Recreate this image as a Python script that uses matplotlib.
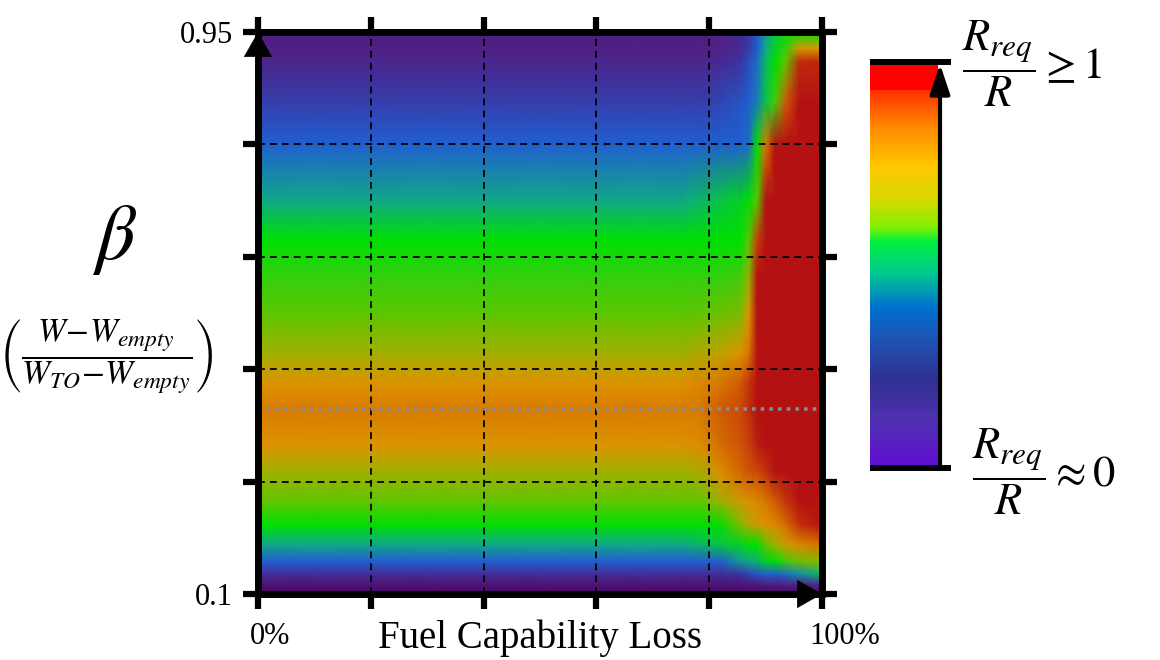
import matplotlib
matplotlib.use('Agg')
import matplotlib.pyplot as plt
import numpy as np
from matplotlib.colors import LinearSegmentedColormap, Normalize
from matplotlib.cm import ScalarMappable

plt.rcParams['font.family'] = ['Liberation Serif', 'DejaVu Serif']
plt.rcParams['mathtext.fontset'] = 'stix'

# fuel capability loss (%) and beta sample positions
loss_pct = [0, 20, 40, 60, 75, 78.5, 82, 85.5, 87, 88.5, 90, 91.7, 93.5, 96, 100]
beta = [0.10, 0.114, 0.13, 0.15, 0.175, 0.205, 0.24, 0.285, 0.325, 0.38, 0.42,
        0.465, 0.52, 0.58, 0.635, 0.695, 0.78, 0.845, 0.905, 0.925, 0.95]

# R_req / R, one row per beta value
ratio = [
    [0.00, 0.00, 0.00, 0.00, 0.00, 0.00, 0.00, 0.00, 0.00, 0.00, 0.00, 0.00, 0.00, 0.00, 0.00],
    [0.05, 0.05, 0.05, 0.05, 0.05, 0.05, 0.05, 0.05, 0.06, 0.06, 0.07, 0.08, 0.09, 0.10, 0.12],
    [0.15, 0.15, 0.15, 0.15, 0.15, 0.15, 0.15, 0.18, 0.22, 0.25, 0.28, 0.28, 0.30, 0.34, 0.40],
    [0.28, 0.28, 0.28, 0.28, 0.28, 0.28, 0.28, 0.36, 0.38, 0.40, 0.44, 0.46, 0.52, 0.58, 0.62],
    [0.38, 0.38, 0.38, 0.38, 0.38, 0.40, 0.42, 0.44, 0.46, 0.46, 0.56, 0.64, 0.70, 0.75, 0.82],
    [0.46, 0.46, 0.46, 0.46, 0.46, 0.46, 0.46, 0.60, 0.66, 0.70, 0.73, 0.75, 0.82, 0.93, 1.00],
    [0.56, 0.56, 0.56, 0.56, 0.56, 0.56, 0.64, 0.70, 0.73, 0.75, 0.80, 0.85, 0.92, 1.00, 1.00],
    [0.64, 0.64, 0.64, 0.64, 0.64, 0.66, 0.74, 0.83, 0.86, 0.88, 0.93, 1.00, 1.00, 1.00, 1.00],
    [0.72, 0.72, 0.72, 0.72, 0.72, 0.74, 0.82, 0.86, 0.90, 0.97, 1.00, 1.00, 1.00, 1.00, 1.00],
    [0.79, 0.79, 0.79, 0.79, 0.79, 0.80, 0.85, 0.88, 0.93, 1.00, 1.00, 1.00, 1.00, 1.00, 1.00],
    [0.72, 0.72, 0.72, 0.72, 0.72, 0.75, 0.80, 0.85, 0.92, 1.00, 1.00, 1.00, 1.00, 1.00, 1.00],
    [0.64, 0.64, 0.64, 0.64, 0.64, 0.66, 0.68, 0.72, 0.80, 1.00, 1.00, 1.00, 1.00, 1.00, 1.00],
    [0.56, 0.56, 0.56, 0.56, 0.56, 0.57, 0.58, 0.60, 0.72, 1.00, 1.00, 1.00, 1.00, 1.00, 1.00],
    [0.50, 0.50, 0.50, 0.50, 0.50, 0.50, 0.50, 0.52, 0.62, 1.00, 1.00, 1.00, 1.00, 1.00, 1.00],
    [0.46, 0.46, 0.46, 0.46, 0.46, 0.46, 0.46, 0.46, 0.55, 0.90, 1.00, 1.00, 1.00, 1.00, 1.00],
    [0.38, 0.38, 0.38, 0.38, 0.38, 0.40, 0.42, 0.44, 0.46, 0.55, 1.00, 1.00, 1.00, 1.00, 1.00],
    [0.28, 0.28, 0.28, 0.28, 0.28, 0.28, 0.28, 0.28, 0.30, 0.46, 0.80, 1.00, 1.00, 1.00, 1.00],
    [0.20, 0.20, 0.20, 0.20, 0.20, 0.20, 0.22, 0.25, 0.28, 0.32, 0.42, 0.52, 0.85, 1.00, 1.00],
    [0.12, 0.12, 0.12, 0.12, 0.12, 0.12, 0.14, 0.18, 0.24, 0.30, 0.40, 0.46, 0.56, 0.95, 0.95],
    [0.09, 0.09, 0.09, 0.09, 0.09, 0.09, 0.10, 0.14, 0.20, 0.28, 0.38, 0.44, 0.50, 0.72, 0.70],
    [0.08, 0.08, 0.08, 0.08, 0.08, 0.08, 0.10, 0.14, 0.18, 0.26, 0.36, 0.42, 0.46, 0.46, 0.46],
]

x_ticks = [0, 20, 40, 60, 80, 100]
y_ticks = [0.1, 0.27, 0.44, 0.61, 0.78, 0.95]
beta_ref = 0.38

heat_cmap = LinearSegmentedColormap.from_list('heat', [
    (0.00, '#4a0662'), (0.06, '#4e1878'), (0.10, '#502288'), (0.18, '#3a34a0'),
    (0.28, '#2060d0'), (0.38, '#10a888'), (0.46, '#00e000'), (0.50, '#30d010'),
    (0.56, '#60c400'), (0.64, '#a0b000'), (0.72, '#dc9400'), (0.80, '#d87800'),
    (0.88, '#cc4a08'), (1.00, '#b41212')])

bar_cmap = LinearSegmentedColormap.from_list('bar', [
    (0.00, '#6010d0'), (0.12, '#5030b0'), (0.227, '#303090'), (0.325, '#2050b0'),
    (0.42, '#0070d0'), (0.51, '#00c890'), (0.595, '#00f040'), (0.635, '#80f000'),
    (0.71, '#d8d800'), (0.795, '#ffc800'), (0.90, '#ff8c00'), (1.00, '#ff3000')])
bar_cmap.set_over('#ff0000')

fig = plt.figure(figsize=(11.6, 6.6), dpi=100)
ax = fig.add_axes([258 / 1160, 66 / 660, 564 / 1160, 562 / 660])

ax.pcolormesh(loss_pct, beta, np.array(ratio), shading='gouraud',
              cmap=heat_cmap, vmin=0, vmax=1)
ax.set_xlim(0, 100)
ax.set_ylim(0.1, 0.95)

for v in x_ticks[1:-1]:
    ax.axvline(v, color='k', ls=(0, (3.8, 2.8)), lw=1.3)
for v in y_ticks[1:-1]:
    ax.axhline(v, color='k', ls=(0, (3.8, 2.8)), lw=1.3)
ax.axhline(beta_ref, color='#8c8c8c', ls=(0, (1, 1.4)), lw=2.6)

for s in ax.spines.values():
    s.set_linewidth(5)
ax.set_xticks(x_ticks)
ax.set_xticklabels([''] * len(x_ticks))
ax.set_yticks(y_ticks)
ax.set_yticklabels(['0.1', '', '', '', '', '0.95'])
ax.tick_params(which='both', direction='out', length=11, width=4.5,
               top=True, right=True, labelsize=22, pad=7)

# axis arrows
arr = dict(arrowstyle='-|>,head_length=0.86,head_width=0.49', mutation_scale=20,
           color='k', lw=0.5, shrinkA=0, shrinkB=0)
ax.annotate('', xy=(0, 1), xytext=(0, 0.9), xycoords='axes fraction',
            arrowprops=arr, annotation_clip=False)
ax.annotate('', xy=(1, 0), xytext=(0.9, 0), xycoords='axes fraction',
            arrowprops=arr, annotation_clip=False)

# colour bar
cax = fig.add_axes([870 / 1160, 195 / 660, 68 / 1160, 400 / 660])
cb = fig.colorbar(ScalarMappable(Normalize(0, 1), bar_cmap), cax=cax,
                  extend='max', extendrect=True, extendfrac=25 / 375)
cb.outline.set_visible(False)
cb.set_ticks([])

# overlay in pixel units for the annotations
ov = fig.add_axes([0, 0, 1, 1])
ov.set_xlim(0, 1160)
ov.set_ylim(660, 0)
ov.axis('off')
ov.plot([870, 951], [62, 62], color='k', lw=4.3, solid_capstyle='butt')
ov.plot([870, 951], [468, 468], color='k', lw=4.3, solid_capstyle='butt')
ov.annotate('', xy=(940, 64), xytext=(940, 468),
            arrowprops=dict(arrowstyle='-|>,head_length=0.9,head_width=0.3',
                            mutation_scale=20, color='k', lw=3, shrinkA=0, shrinkB=0))

ov.text(962, 64, r'$\dfrac{R_{req}}{R}\geq 1$', fontsize=32, ha='left', va='center')
ov.text(972, 472, r'$\dfrac{R_{req}}{R}\approx 0$', fontsize=32, ha='left', va='center')

ov.text(115, 240, r'$\beta$', fontsize=56, ha='center', va='center')
ov.text(106, 357, r'$\left(\dfrac{W\!-\!W_{empty}}{W_{TO}\!-\!W_{empty}}\right)$',
        fontsize=24, ha='center', va='center')

ov.text(270, 636, '0%', fontsize=22, ha='center', va='center')
ov.text(845, 636, '100%', fontsize=22, ha='center', va='center')
ov.text(540, 638, 'Fuel Capability Loss', fontsize=28, ha='center', va='center')

fig.savefig('out.png', dpi=100)
